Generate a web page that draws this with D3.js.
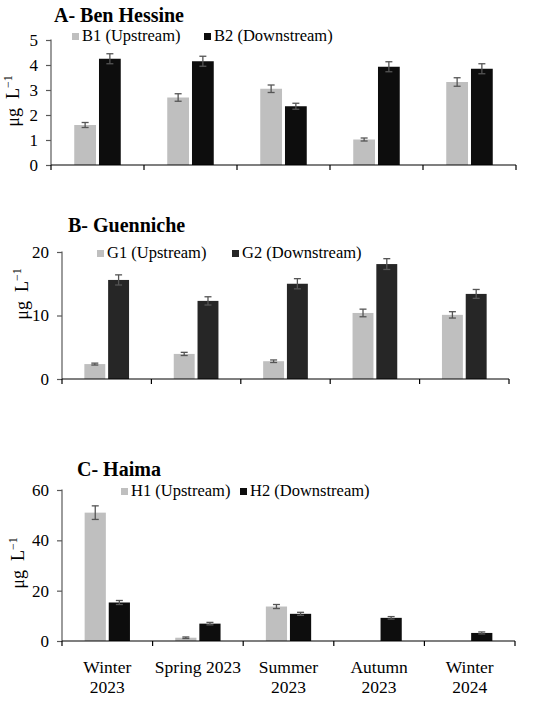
<!doctype html>
<html lang="en">
<head>
<meta charset="utf-8">
<title>Seasonal concentrations</title>
<script src="https://d3js.org/d3.v7.min.js"></script>
<style>
  body { margin: 0; background: #fff; }
  svg text { font-family: "Liberation Serif", "DejaVu Serif", serif; fill: #000; }
</style>
</head>
<body>
<div id="chart"></div>
<script>
// seasons (shared x categories)
var seasons = ["Winter 2023", "Spring 2023", "Summer 2023", "Autumn 2023", "Winter 2024"];
var seasonLines = [["Winter", "2023"], ["Spring 2023"], ["Summer", "2023"], ["Autumn", "2023"], ["Winter", "2024"]];

// A- Ben Hessine
var benUp = [1.6, 2.7, 3.05, 1.02, 3.32];
var benUpErr = [0.1, 0.15, 0.15, 0.06, 0.17];
var benDown = [4.25, 4.15, 2.35, 3.93, 3.85];
var benDownErr = [0.2, 0.2, 0.12, 0.2, 0.2];
var benTicks = [0, 1, 2, 3, 4, 5];

// B- Guenniche
var guenUp = [2.35, 3.95, 2.8, 10.4, 10.1];
var guenUpErr = [0.15, 0.25, 0.2, 0.6, 0.5];
var guenDown = [15.6, 12.3, 15.0, 18.1, 13.4];
var guenDownErr = [0.8, 0.65, 0.8, 0.85, 0.7];
var guenTicks = [0, 10, 20];

// C- Haima
var haimaUp = [51.0, 1.3, 13.7, 0, 0];
var haimaUpErr = [2.7, 0.3, 0.8, 0, 0];
var haimaDown = [15.3, 6.9, 10.8, 9.2, 3.2];
var haimaDownErr = [0.8, 0.5, 0.6, 0.5, 0.4];
var haimaTicks = [0, 20, 40, 60];

var W = 550, H = 703;
var svg = d3.select("#chart").append("svg").attr("width", W).attr("height", H);

var panels = [
  { title: "A- Ben Hessine", titleX: 54, titleY: 22,
    left: 51, right: 516, top: 40, bottom: 165, max: 5, ticks: benTicks,
    names: ["B1 (Upstream)", "B2 (Downstream)"], colors: ["#bfbfbf", "#0d0d0d"],
    up: benUp, upErr: benUpErr, down: benDown, downErr: benDownErr,
    legX: [72, 204], legY: 41, labelX: 19, labelY: 101, xlabels: false },
  { title: "B- Guenniche", titleX: 68, titleY: 232,
    left: 62, right: 509, top: 252, bottom: 379, max: 20, ticks: guenTicks,
    names: ["G1 (Upstream)", "G2 (Downstream)"], colors: ["#bfbfbf", "#262626"],
    up: guenUp, upErr: guenUpErr, down: guenDown, downErr: guenDownErr,
    legX: [97, 232], legY: 258, labelX: 28, labelY: 294, xlabels: false },
  { title: "C- Haima", titleX: 77, titleY: 476,
    left: 62, right: 515, top: 490, bottom: 641, max: 60, ticks: haimaTicks,
    names: ["H1 (Upstream)", "H2 (Downstream)"], colors: ["#bfbfbf", "#0d0d0d"],
    up: haimaUp, upErr: haimaUpErr, down: haimaDown, downErr: haimaDownErr,
    legX: [121, 240], legY: 496, labelX: 24, labelY: 563, xlabels: true }
];

panels.forEach(function(p) {
  var g = svg.append("g");

  var x0 = d3.scaleBand().domain(seasons).range([p.left, p.right]).padding(0);
  var bw = x0.bandwidth();
  var x1 = d3.scaleBand().domain([0, 1]).range([bw * 0.25, bw * 0.75]).paddingInner(0.12);
  var y = d3.scaleLinear().domain([0, p.max]).range([p.bottom, p.top]);

  // title
  g.append("text").attr("x", p.titleX).attr("y", p.titleY)
    .style("font-size", "20px").style("font-weight", "bold").text(p.title);

  // legend
  p.names.forEach(function(n, i) {
    g.append("rect").attr("x", p.legX[i]).attr("y", p.legY - 8)
      .attr("width", 7).attr("height", 7).attr("fill", p.colors[i]);
    g.append("text").attr("x", p.legX[i] + 10).attr("y", p.legY)
      .style("font-size", "16.5px").text(n);
  });

  // bars
  var rows = seasons.map(function(s, i) {
    return [
      { s: s, k: 0, v: p.up[i], e: p.upErr[i] },
      { s: s, k: 1, v: p.down[i], e: p.downErr[i] }
    ];
  });
  var flat = [].concat.apply([], rows).filter(function(d) { return d.v > 0; });

  g.selectAll("rect.bar").data(flat)
    .enter().append("rect").attr("class", "bar")
    .attr("x", function(d) { return x0(d.s) + x1(d.k); })
    .attr("width", x1.bandwidth())
    .attr("y", function(d) { return y(d.v); })
    .attr("height", function(d) { return y(0) - y(d.v); })
    .attr("fill", function(d) { return p.colors[d.k]; });

  // error bars
  var cx = function(d) { return x0(d.s) + x1(d.k) + x1.bandwidth() / 2; };
  var eb = g.selectAll("g.err").data(flat)
    .enter().append("g").attr("class", "err")
    .attr("stroke", "#555").attr("stroke-width", 1.3);
  eb.append("line")
    .attr("x1", cx).attr("x2", cx)
    .attr("y1", function(d) { return y(d.v - d.e); })
    .attr("y2", function(d) { return y(d.v + d.e); });
  [1, -1].forEach(function(sign) {
    eb.append("line")
      .attr("x1", function(d) { return cx(d) - 3.5; })
      .attr("x2", function(d) { return cx(d) + 3.5; })
      .attr("y1", function(d) { return y(d.v + sign * d.e); })
      .attr("y2", function(d) { return y(d.v + sign * d.e); });
  });

  // y axis
  var yAxis = g.append("g").attr("transform", "translate(" + p.left + ",0)")
    .call(d3.axisLeft(y).tickValues(p.ticks).tickSize(5).tickPadding(8).tickFormat(d3.format("d")));
  yAxis.selectAll("path, line").attr("stroke", "#595959").attr("stroke-width", 1.2);
  yAxis.selectAll("text").style("font-size", "17px").style("font-family", "Liberation Serif").attr("fill", "#000");
  yAxis.select(".domain").attr("d", "M0," + (p.top - 0.5) + "V" + p.bottom);

  // x axis: baseline with boundary ticks
  var xa = g.append("g").attr("stroke", "#000").attr("stroke-width", 1.2);
  xa.append("line").attr("x1", p.left).attr("x2", p.right)
    .attr("y1", p.bottom).attr("y2", p.bottom);
  var bounds = seasons.map(function(s) { return x0(s); }).concat([p.right]);
  xa.selectAll("line.tk").data(bounds).enter().append("line").attr("class", "tk")
    .attr("x1", function(d) { return d; }).attr("x2", function(d) { return d; })
    .attr("y1", p.bottom).attr("y2", p.bottom + 5);

  if (p.xlabels) {
    seasons.forEach(function(s, i) {
      var t = g.append("text").attr("text-anchor", "middle").style("font-size", "17.5px")
        .attr("x", x0(s) + bw / 2).attr("y", p.bottom + 32);
      seasonLines[i].forEach(function(line, j) {
        t.append("tspan").attr("x", x0(s) + bw / 2).attr("dy", j === 0 ? 0 : 20).text(line);
      });
    });
  }

  // y axis label
  var lab = g.append("text").attr("text-anchor", "middle")
    .attr("transform", "translate(" + p.labelX + "," + p.labelY + ") rotate(-90)")
    .style("font-size", "18px");
  lab.append("tspan").text("\u03bcg\u00a0\u00a0L");
  lab.append("tspan").attr("dy", -7).style("font-size", "12px").text("\u22121");
});
</script>
</body>
</html>
